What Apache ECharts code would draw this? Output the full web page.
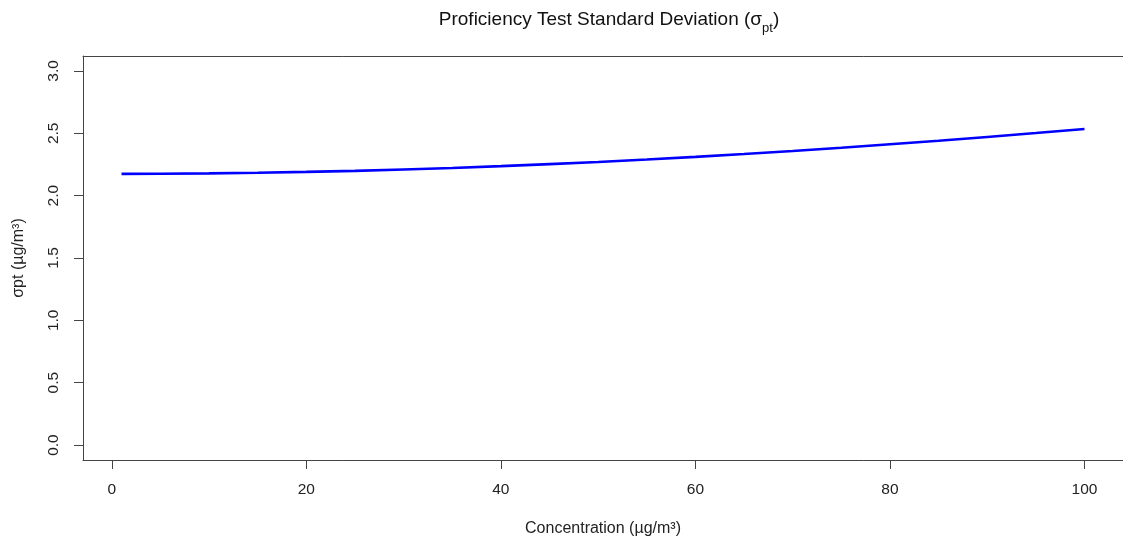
<!DOCTYPE html>
<html>
<head>
<meta charset="utf-8">
<script src="https://cdn.jsdelivr.net/npm/echarts@6/dist/echarts.min.js"></script>
<style>html,body{margin:0;padding:0;background:#fff;}#c{width:1123px;height:543px;}</style>
</head>
<body>
<div id="c"></div>
<script>
// Data
const concentration = [1, 5, 10, 15, 20, 25, 30, 35, 40, 45, 50, 55, 60, 65, 70, 75, 80, 85, 90, 95, 100];
const sigmaPt = [2.175, 2.176, 2.179, 2.184, 2.191, 2.199, 2.210, 2.222, 2.237, 2.253, 2.270, 2.290, 2.311, 2.334, 2.358, 2.384, 2.412, 2.440, 2.471, 2.502, 2.535];
const xTicks = [0, 20, 40, 60, 80, 100];
const yTicks = [0, 0.5, 1, 1.5, 2, 2.5, 3];

const chart = echarts.init(document.getElementById('c'), null, {renderer: 'canvas'});
const font = '"Liberation Sans", Arial, sans-serif';
const axisColor = '#444';
chart.setOption({
  animation: false,
  backgroundColor: '#fff',
  title: {
    text: 'Proficiency Test Standard Deviation (σ{s|pt})',
    left: 604, top: 5, textAlign: 'center',
    textStyle: {
      fontFamily: font, fontSize: 19, fontWeight: 'normal', color: '#111',
      rich: {
        s: {fontFamily: font, fontSize: 13, color: '#111', verticalAlign: 'bottom', padding: [0, 0, -6, 0]}
      }
    }
  },
  grid: {left: 83, top: 56, width: 1043, height: 404, show: false, containLabel: false},
  xAxis: [{
    type: 'value', min: -2.96, max: 103.96, position: 'bottom',
    name: 'Concentration (µg/m³)', nameLocation: 'middle', nameGap: 61,
    nameTextStyle: {fontFamily: font, fontSize: 16, color: '#222'},
    axisLine: {show: true, onZero: false, lineStyle: {color: axisColor, width: 1}},
    splitLine: {show: false},
    axisTick: {show: true, inside: false, length: 9, lineStyle: {color: axisColor}, customValues: xTicks},
    axisLabel: {fontFamily: font, fontSize: 15.5, color: '#222', margin: 22, customValues: xTicks, formatter: v => String(v)}
  }, {
    type: 'value', min: -2.96, max: 103.96, position: 'top',
    axisLine: {show: true, onZero: false, lineStyle: {color: axisColor, width: 1}},
    axisTick: {show: false}, axisLabel: {show: false}, splitLine: {show: false}
  }],
  yAxis: {
    type: 'value', min: -0.12, max: 3.12,
    name: 'σpt (µg/m³)', nameLocation: 'middle', nameGap: 56, nameRotate: 90,
    nameTextStyle: {fontFamily: font, fontSize: 16, color: '#222'},
    axisLine: {show: true, onZero: false, lineStyle: {color: axisColor, width: 1}},
    splitLine: {show: false},
    axisTick: {show: true, inside: false, length: 9, lineStyle: {color: axisColor}, customValues: yTicks},
    axisLabel: {fontFamily: font, fontSize: 15.5, color: '#222', margin: 21, rotate: 90, customValues: yTicks, formatter: v => v.toFixed(1)}
  },
  series: [{
    type: 'line',
    xAxisIndex: 0,
    data: concentration.map((x, i) => [x, sigmaPt[i]]),
    showSymbol: false, symbol: 'none', smooth: false,
    lineStyle: {color: '#0000FF', width: 2.6}
  }]
});
</script>
</body>
</html>
